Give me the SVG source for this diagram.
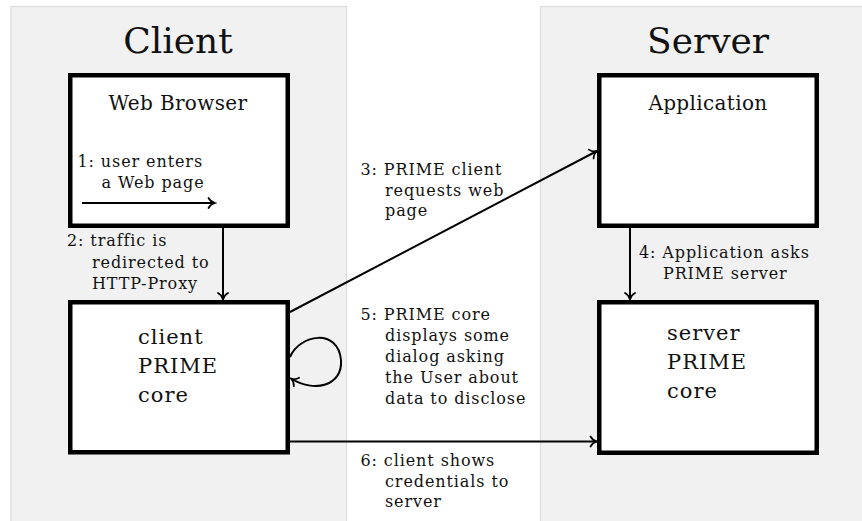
<svg xmlns="http://www.w3.org/2000/svg" width="862" height="521" viewBox="0 0 862 521">
<style>
.panel{fill:#f1f1f1;stroke:#dcdcdc;stroke-width:1.2}
.box{fill:#fff;stroke:#000;stroke-width:4.5}
.title{font-family:"DejaVu Serif","Liberation Serif",serif;font-size:36px;fill:#111;text-anchor:middle}
.name{font-family:"DejaVu Serif","Liberation Serif",serif;font-size:20px;fill:#111;letter-spacing:0.35px}
.core{font-family:"DejaVu Serif","Liberation Serif",serif;font-size:21px;fill:#111;letter-spacing:1px}
.lbl{font-family:"DejaVu Serif","Liberation Serif",serif;font-size:16px;fill:#111;letter-spacing:0.9px}
.edge{fill:none;stroke:#000;stroke-width:2}
</style>
<defs>
<marker id="arr" viewBox="-9 -7 11 14" markerWidth="11" markerHeight="14" refX="0" refY="0" orient="auto" markerUnits="userSpaceOnUse">
<path d="M-6.5,-5 C-5,-2 -1.8,-0.5 0,0 C-1.8,0.5 -5,2 -6.5,5" fill="none" stroke="#000" stroke-width="1.7" stroke-linecap="round"/>
</marker>
</defs>
<g id="client-panel">
<rect class="panel" x="11" y="6.5" width="335.5" height="520"/>
<text class="title" x="178" y="53">Client</text>
</g>
<g id="server-panel">
<rect class="panel" x="540.5" y="6.5" width="330" height="520"/>
<text class="title" x="708" y="53">Server</text>
</g>
<g id="web-browser">
<rect class="box" x="70.25" y="75.25" width="217.5" height="150.5"/>
<text class="name" x="178" y="110" text-anchor="middle">Web Browser</text>
</g>
<g id="client-prime-core">
<rect class="box" x="70.25" y="302.25" width="217.5" height="150"/>
<text class="core" x="138" y="344">client</text>
<text class="core" x="138" y="373">PRIME</text>
<text class="core" x="138" y="402">core</text>
</g>
<g id="application">
<rect class="box" x="599.25" y="75.25" width="217.5" height="150.5"/>
<text class="name" x="708" y="110" text-anchor="middle">Application</text>
</g>
<g id="server-prime-core">
<rect class="box" x="599.25" y="302.25" width="217.5" height="150.5"/>
<text class="core" x="667" y="340">server</text>
<text class="core" x="667" y="369">PRIME</text>
<text class="core" x="667" y="398">core</text>
</g>
<g id="connectors">
<line class="edge" x1="82" y1="203" x2="215" y2="203" marker-end="url(#arr)"/>
<line class="edge" x1="223" y1="228" x2="223" y2="299.5" marker-end="url(#arr)"/>
<line class="edge" x1="290" y1="312" x2="597" y2="151" marker-end="url(#arr)"/>
<line class="edge" x1="630" y1="228" x2="630" y2="299.5" marker-end="url(#arr)"/>
<path class="edge" d="M290,357 C300,334 338,328 341,360 C343,386 314,393 291,378.5" marker-end="url(#arr)"/>
<line class="edge" x1="290" y1="441.5" x2="597" y2="441.5" marker-end="url(#arr)"/>
</g>
<g id="labels">
<text class="lbl" x="77.5" y="166.5">1: user enters</text>
<text class="lbl" x="101.5" y="188">a Web page</text>
<text class="lbl" x="67" y="246">2: traffic is</text>
<text class="lbl" x="92" y="267.5">redirected to</text>
<text class="lbl" x="92" y="288.5">HTTP-Proxy</text>
<text class="lbl" x="360.5" y="174.5">3: PRIME client</text>
<text class="lbl" x="385" y="195.5">requests web</text>
<text class="lbl" x="385" y="216">page</text>
<text class="lbl" x="639" y="257.5">4: Application asks</text>
<text class="lbl" x="663" y="278.5">PRIME server</text>
<text class="lbl" x="360.5" y="320">5: PRIME core</text>
<text class="lbl" x="385" y="341">displays some</text>
<text class="lbl" x="385" y="362">dialog asking</text>
<text class="lbl" x="385" y="383">the User about</text>
<text class="lbl" x="385" y="404">data to disclose</text>
<text class="lbl" x="360.5" y="465.5">6: client shows</text>
<text class="lbl" x="385" y="486.5">credentials to</text>
<text class="lbl" x="385" y="507">server</text>
</g>
</svg>
